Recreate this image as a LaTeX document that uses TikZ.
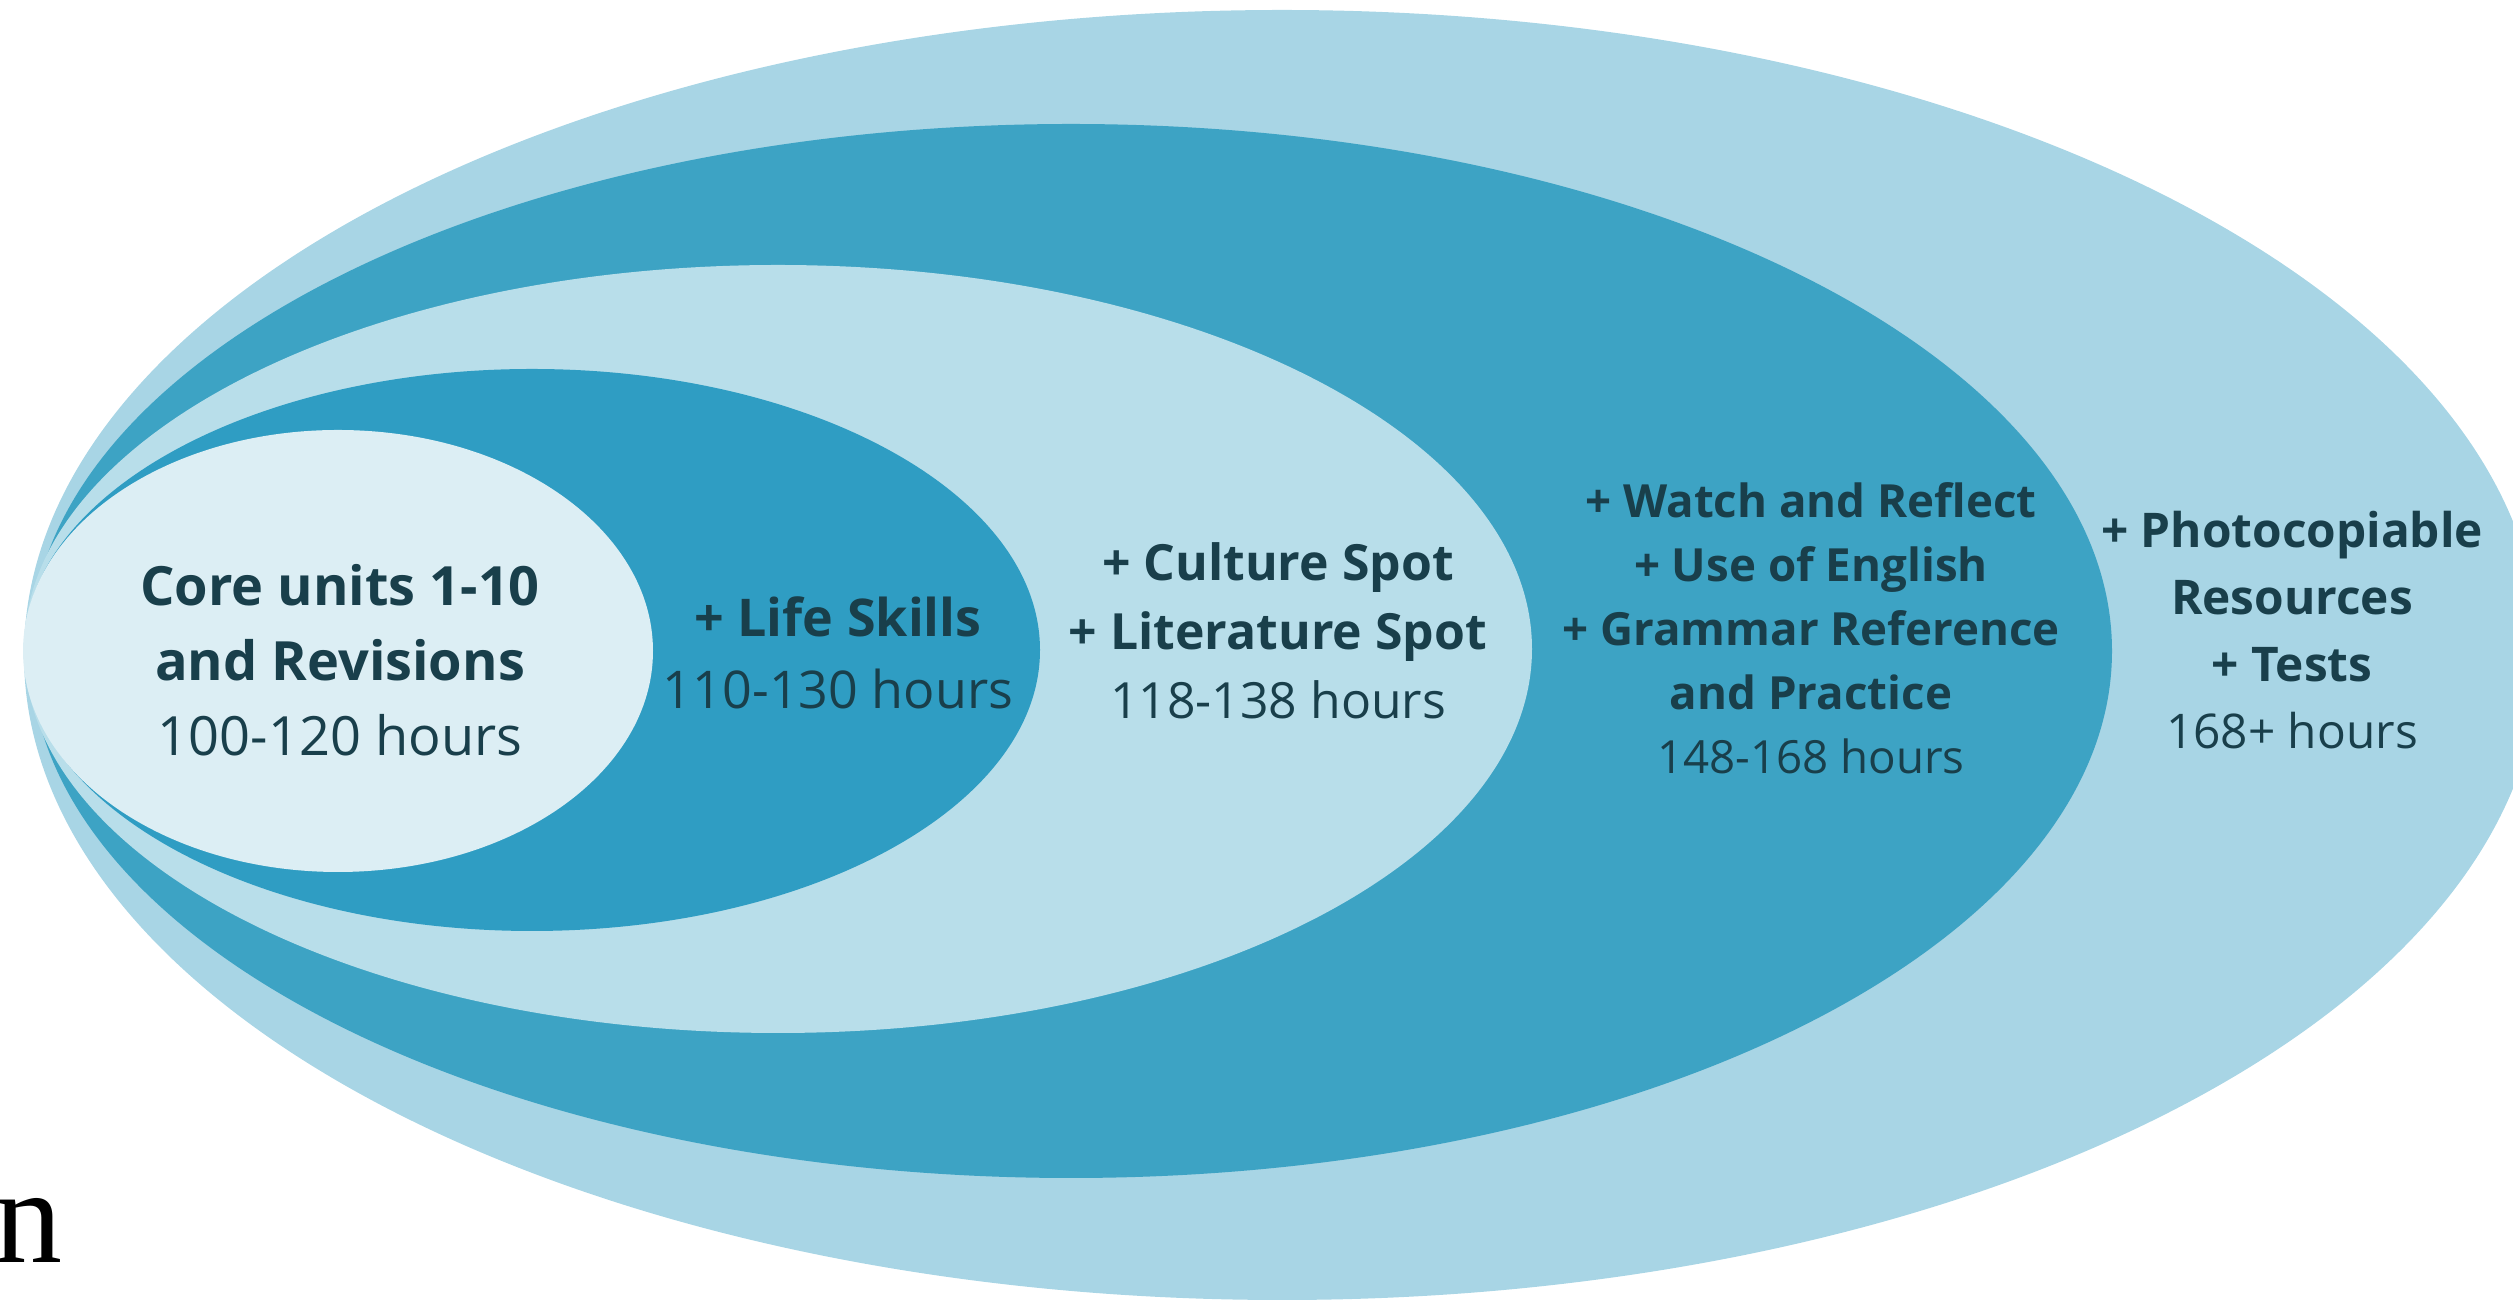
\documentclass[tikz,border=0pt]{standalone}
\usepackage{fontspec}
\setmainfont{Open Sans}
\newfontfamily\edgefont{Liberation Serif}
\definecolor{ringA}{HTML}{A8D5E5}
\definecolor{ringB}{HTML}{3DA3C4}
\definecolor{ringC}{HTML}{B8DEEA}
\definecolor{ringD}{HTML}{2F9DC3}
\definecolor{ringE}{HTML}{DCEEF4}
\definecolor{ink}{HTML}{193F4B}
\tikzset{
  lbl/.style={align=center, text=ink, inner sep=0pt},
}
\begin{document}
\begin{tikzpicture}
\useasboundingbox (0,0) rectangle (25.13,13.05);
\clip (0,0) rectangle (25.13,13.05);
% nested ellipses, outermost first
\fill[ringA] (12.82,6.50) ellipse [x radius=12.58, y radius=6.45];
\fill[ringB] (10.71,6.54) ellipse [x radius=10.41, y radius=5.27];
\fill[ringC] (7.78,6.56) ellipse [x radius=7.54, y radius=3.84];
\fill[ringD] (5.32,6.55) ellipse [x radius=5.08, y radius=2.81];
\fill[ringE] (3.38,6.54) ellipse [x radius=3.15, y radius=2.21];
% labels
\node[lbl, font=\fontsize{15.4}{21.3}\selectfont] (core) at (3.40,6.45)
  {\textbf{Core units 1-10}\\\textbf{and Revisions}\\100-120 hours};
\node[lbl, font=\fontsize{14.8}{20.5}\selectfont] (life) at (8.38,6.52)
  {\textbf{+ Life Skills}\\110-130 hours};
\node[lbl, font=\fontsize{14.2}{19.6}\selectfont] (culture) at (12.78,6.74)
  {\textbf{+ Culture Spot}\\\textbf{+ Literature Spot}\\118-138 hours};
\node[lbl, font=\fontsize{13}{18.2}\selectfont] (watch) at (18.11,6.77)
  {\textbf{+ Watch and Reflect}\\\textbf{+ Use of English}\\\textbf{+ Grammar Reference}\\\textbf{and Practice}\\148-168 hours};
\node[lbl, font=\fontsize{13.6}{19}\selectfont] (photo) at (22.92,6.75)
  {\textbf{+ Photocopiable}\\\textbf{Resources}\\\textbf{+ Tests}\\168+ hours};
\node[anchor=base east, inner sep=0pt, font=\edgefont\fontsize{38.7}{40}\selectfont] (edge) at (0.63,0.42) {on};
\end{tikzpicture}
\end{document}
